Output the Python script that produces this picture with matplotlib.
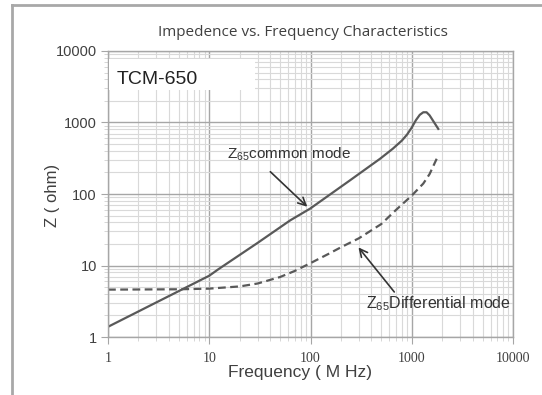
import matplotlib
matplotlib.use("Agg")
import matplotlib.pyplot as plt
from matplotlib.lines import Line2D
from matplotlib.ticker import LogLocator, NullFormatter, FixedLocator

# ============================================================
# Data
# ============================================================

# Common mode impedance (solid line)
common_f = [1, 10, 12.2, 30, 63, 99, 245, 486, 650, 800, 900, 1000, 1100, 1200, 1300, 1400, 1500, 1828]
common_z = [1.39, 7.2, 8.8, 20.7, 42.8, 62.4, 155, 311, 430, 560, 680, 850, 1080, 1280, 1390, 1390, 1260, 814]

# Differential mode impedance (dashed line)
diff_f = [1, 5, 10, 20, 30, 50, 70, 100, 150, 200, 300, 500, 700, 1000, 1300, 1500, 1763]
diff_z = [4.6, 4.65, 4.75, 5.1, 5.6, 6.9, 8.4, 10.8, 14.5, 18, 24, 38, 60, 95, 140, 190, 311]

x_ticks = [1, 10, 100, 1000, 10000]
x_labels = ["1", "10", "100", "1000", "10000"]
y_ticks = [1, 10, 100, 1000, 10000]
y_labels = ["1", "10", "100", "1000", "10000"]

TEXT = "#404040"
LINE = "#595959"

# ============================================================
# Figure
# ============================================================

fig = plt.figure(figsize=(5.42, 3.95), dpi=100)
ax = fig.add_axes([0.1993, 0.1468, 0.9465 - 0.1993, 0.8709 - 0.1468])

# outer frame (left and top edges visible in the reference)
fig.add_artist(Line2D([12 / 542, 12 / 542], [0, 1 - 5 / 395], color="#a8a8a8", lw=2))
fig.add_artist(Line2D([12 / 542, 1], [1 - 5 / 395, 1 - 5 / 395], color="#a8a8a8", lw=2))

ax.plot(common_f, common_z, color=LINE, lw=1.6, solid_joinstyle="round")
ax.plot(diff_f, diff_z, color=LINE, lw=1.6, linestyle=(0, (3.5, 2)))

ax.set_xscale("log")
ax.set_yscale("log")
ax.set_xlim(1, 10000)
ax.set_ylim(1, 10000)

ax.xaxis.set_major_locator(FixedLocator(x_ticks))
ax.yaxis.set_major_locator(FixedLocator(y_ticks))
ax.xaxis.set_minor_locator(LogLocator(base=10, subs=range(2, 10), numticks=20))
ax.yaxis.set_minor_locator(LogLocator(base=10, subs=range(2, 10), numticks=20))
ax.xaxis.set_minor_formatter(NullFormatter())
ax.yaxis.set_minor_formatter(NullFormatter())
ax.set_xticklabels(x_labels, family="Liberation Serif", fontsize=10, color=TEXT)
ax.set_yticklabels(y_labels, family="Liberation Sans", fontsize=10.5, color=TEXT)

ax.grid(True, which="major", color="#a6a6a6", lw=1.0)
ax.grid(True, which="minor", color="#d9d9d9", lw=0.8)
ax.set_axisbelow(True)
for s in ax.spines.values():
    s.set_color("#a6a6a6")
    s.set_linewidth(1.0)
ax.tick_params(which="major", length=5, color="#a6a6a6", pad=3)
ax.tick_params(which="minor", length=3, color="#d0d0d0")
ax.tick_params(axis="x", pad=6)

# axis labels and title
fig.text(300 / 542, 1 - 372 / 395, "Frequency ( M Hz)", ha="center", va="center",
         family="Liberation Sans", fontsize=12.5, color=TEXT)
fig.text(52 / 542, 1 - 195 / 395, "Z ( ohm)", ha="center", va="center", rotation=90,
         family="Liberation Sans", fontsize=12, color=TEXT)
fig.text(303 / 542, 1 - 32 / 395, "Impedence vs. Frequency Characteristics", ha="center",
         va="center", family="Open Sans", fontsize=11, color=TEXT)

# part number box
ax.add_patch(plt.Rectangle((0.0025, 0.8636), 0.36, 0.107, transform=ax.transAxes,
                           facecolor="white", edgecolor="none", zorder=3))
ax.text(0.0215, 0.901, "TCM-650", transform=ax.transAxes, ha="left", va="center",
        family="Liberation Sans", fontsize=14, color="#222222", zorder=4)

# annotations
arrow = dict(arrowstyle="->", color="#333333", lw=1.2, mutation_scale=14)
ax.annotate("", xy=(97.3, 62.4), xytext=(38.3, 218), arrowprops=arrow)
ax.text(14.9, 357, r"Z$_{\mathregular{65}}$common mode", ha="left", va="center",
        family="Liberation Sans", fontsize=11, color="#333333")

ax.annotate("", xy=(286, 19.2), xytext=(699, 3.98), arrowprops=arrow)
ax.text(353, 2.95, r"Z$_{\mathregular{65}}$Differential mode", ha="left", va="center",
        family="Liberation Sans", fontsize=11.5, color="#333333")

fig.savefig("out.png", dpi=100)
